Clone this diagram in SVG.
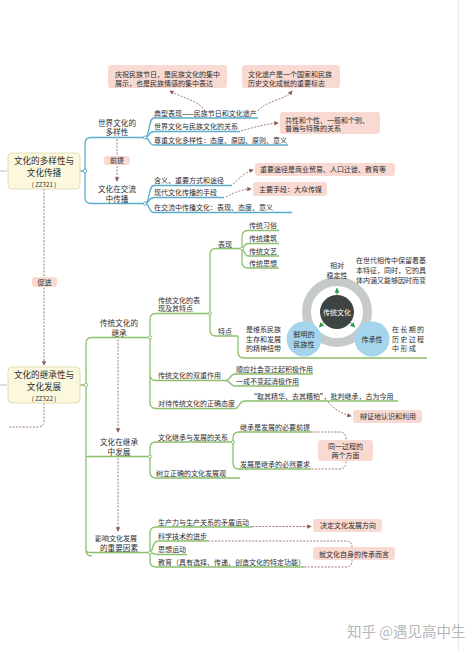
<svg xmlns="http://www.w3.org/2000/svg" width="474" height="651" viewBox="0 0 474 651">
<style>
text{font-family:"Noto Sans CJK SC","Noto Sans",sans-serif;fill:#2d2d2d}
.t7{font-size:7px}
.t8{font-size:7.6px}
.title{font-size:8.6px}
.code{font-size:6.2px}
.blue{stroke:#5aaccc;fill:none;stroke-width:1.3}
.green{stroke:#8cc06c;fill:none;stroke-width:1.3}
.dash{stroke:#8d5b52;fill:none;stroke-width:0.8;stroke-dasharray:2 1.4}
.pink{fill:#f8dad2}
.main{fill:#fbf8dd;stroke:#e3deb5;stroke-width:1}
.dotb{fill:#fff;stroke:#5aaccc;stroke-width:0.9}
.dotg{fill:#fff;stroke:#8cc06c;stroke-width:0.9}
.mid{text-anchor:middle}
</style>
<defs>
<marker id="ah" viewBox="0 0 6 6" refX="5" refY="3" markerWidth="4.5" markerHeight="4.5" markerUnits="userSpaceOnUse" orient="auto"><path d="M0,0 L6,3 L0,6 z" fill="#8d5b52"/></marker>
<marker id="ag" viewBox="0 0 6 6" refX="5" refY="3" markerWidth="5" markerHeight="5" markerUnits="userSpaceOnUse" orient="auto"><path d="M0,0 L6,3 L0,6 z" fill="#2f9a4a"/></marker>
</defs>
<rect width="474" height="651" fill="#fff"/>
<line x1="458.5" y1="0" x2="458.5" y2="651" stroke="#ebebeb" stroke-width="1"/>

<g id="connectors">
<path class="dash" d="M44,189 V365" marker-end="url(#ah)"/>
<path class="dash" d="M44,403 V421 Q44,427 38,427 H8"/>
<line x1="0" y1="171" x2="7" y2="171" stroke="#aaa" stroke-width="0.8"/>
<line x1="0" y1="385" x2="7" y2="385" stroke="#aaa" stroke-width="0.8"/>
<path class="blue" d="M80,171 H85 M85,171 V143.5 Q85,137.5 91,137.5 H145 M85,171 V197.5 Q85,203.5 91,203.5 H145"/>
<path class="blue" d="M145,137.5 C150,137.5 148,118 154,118 H258 M145,137.5 C150,137.5 148,131.5 154,131.5 H240 M145,137.5 C150,137.5 148,145 154,145 H288"/>
<path class="blue" d="M145,203.5 C150,203.5 148,185.5 154,185.5 H232 M145,203.5 C150,203.5 148,197.5 154,197.5 H224 M145,203.5 C150,203.5 148,212.5 154,212.5 H292"/>
<path class="dash" d="M117,139 V181" marker-end="url(#ah)"/>
<path class="dash" d="M205,111 C200,101 180,97 170,91" marker-end="url(#ah)"/>
<path class="dash" d="M258,111 C265,101 285,100 292,91" marker-end="url(#ah)"/>
<path class="dash" d="M241,131 C255,127 265,124 278,123" marker-end="url(#ah)"/>
<path class="dash" d="M233,184 C240,178 245,172 253,170" marker-end="url(#ah)"/>
<path class="dash" d="M226,197 C235,192 243,189 251,189" marker-end="url(#ah)"/>
<circle class="dotb" cx="85" cy="171" r="1.8"/>
<circle class="dotb" cx="145" cy="137.5" r="1.6"/>
<circle class="dotb" cx="145" cy="203.5" r="1.6"/>
<path class="green" d="M80,385 H86 M86,385 V343.5 Q86,337.5 92,337.5 H150 M86,385 V550 Q86,556 92,556 M86,456.5 H150 M86,550 Q86,552.5 92,552.5 H150"/>
<path class="dash" d="M118,339.5 V432" marker-end="url(#ah)"/>
<path class="dash" d="M118,458 V531" marker-end="url(#ah)"/>
<path class="green" d="M150,337.5 V319.5 Q150,313.5 156,313.5 H210 M150,337.5 V374.5 Q150,380.5 156,380.5 H226 M150,374.5 V402.5 Q150,408.5 156,408.5 H235"/>
<path class="green" d="M210,313.5 V254.5 Q210,248.5 216,248.5 H242 M210,313.5 V330 Q210,336 216,336 H238"/>
<path class="green" d="M242,248.5 V236.5 Q242,230.5 248,230.5 H279 M242,248.5 C244,248.5 244,243.5 248,243.5 H279 M242,248.5 C244,248.5 244,256 248,256 H279 M242,248.5 V262 Q242,268 248,268 H279"/>
<path class="green" d="M238,336 V352 Q238,358 244,358 H427"/>
<path class="green" d="M226,380.5 C230,380.5 230,374 235,374 H313 M226,380.5 C230,380.5 230,386 235,386 H299"/>
<path class="green" d="M235,408.5 C240,408.5 238,401 245,401 H398"/>
<path class="dash" d="M328,402 C335,410 342,414 351,416" marker-end="url(#ah)"/>
<path class="green" d="M150,456.5 V448 Q150,442 156,442 H233 M150,456.5 V472 Q150,478 156,478 H240"/>
<path class="green" d="M233,442 V438 Q233,432 239,432 H311 M233,442 V463 Q233,469 239,469 H311"/>
<path class="dash" d="M311,432 H339 Q346,432 346,439 V462 Q346,469 339,469 H311"/>
<path class="green" d="M150,552.5 V533 Q150,527 156,527 H252 M150,552.5 C153,552.5 152,541 158,541 H208 M150,552.5 C153,552.5 153,554.5 158,554.5 H187 M150,552.5 V561 Q150,567 156,567 H304"/>
<path class="dash" d="M252,526.5 H311" marker-end="url(#ah)"/>
<path class="dash" d="M208,541 H346 Q352,541 352,547 V561 Q352,567 346,567 H304"/>
<circle class="dotg" cx="86" cy="385" r="1.8"/>
<circle class="dotg" cx="150" cy="337.5" r="1.6"/>
<circle class="dotg" cx="150" cy="456.5" r="1.6"/>
<circle class="dotg" cx="150" cy="552.5" r="1.6"/>
<circle class="dotg" cx="210" cy="313.5" r="1.5"/>
<circle class="dotg" cx="242" cy="248.5" r="1.5"/>
<circle class="dotg" cx="233" cy="442" r="1.5"/>
</g>

<g id="note-festival"><rect class="pink" x="108" y="65" width="119" height="23" rx="3"/>
<text class="t7" x="115" y="76.5">庆祝民族节日，是民族文化的集中</text>
<text class="t7" x="115" y="85.5">展示，也是民族情感的集中表达</text></g>
<g id="note-heritage"><rect class="pink" x="242" y="65" width="98" height="23" rx="3"/>
<text class="t7" x="248" y="76.5">文化遗产是一个国家和民族</text>
<text class="t7" x="248" y="85.5">历史文化成就的重要标志</text></g>

<g id="node-zz321"><rect class="main" x="8" y="153" width="72" height="36" rx="4"/>
<text class="title mid" x="44" y="163.5">文化的多样性与</text>
<text class="title mid" x="44" y="176">文化传播</text>
<text class="code mid" x="44" y="186.5">( ZZ321 )</text></g>
<g id="label-cujin"><rect class="pink" x="32" y="277" width="25" height="10" rx="3"/>
<text class="t7 mid" x="44.5" y="284.5">促进</text></g>
<g id="node-zz322"><rect class="main" x="8" y="367" width="72" height="36" rx="4"/>
<text class="title mid" x="44" y="377.5">文化的继承性与</text>
<text class="title mid" x="44" y="390">文化发展</text>
<text class="code mid" x="44" y="400.5">( ZZ322 )</text></g>

<g id="node-diversity"><text class="t8 mid" x="117" y="125.5">世界文化的</text><text class="t8 mid" x="117" y="135">多样性</text></g>
<g id="label-qianti"><rect class="pink" x="104" y="156" width="26" height="9" rx="3"/><text class="t7 mid" x="117" y="163">前提</text></g>
<g id="node-spread"><text class="t8 mid" x="117" y="191.5">文化在交流</text><text class="t8 mid" x="117" y="201.5">中传播</text></g>

<g id="leaf-1"><text class="t7" x="154" y="115.5">典型表现——民族节日和文化遗产</text></g>
<g id="leaf-2"><text class="t7" x="154" y="129">世界文化与民族文化的关系</text></g>
<g id="leaf-3"><text class="t7" x="154" y="142.5">尊重文化多样性：态度、原因、原则、意义</text></g>
<g id="note-common"><rect class="pink" x="280" y="112" width="100" height="22" rx="3"/>
<text class="t7" x="285" y="122.5">共性和个性、一般和个别、</text><text class="t7" x="285" y="131">普遍与特殊的关系</text></g>
<g id="leaf-4"><text class="t7" x="154" y="183">含义、重要方式和途径</text></g>
<g id="leaf-5"><text class="t7" x="154" y="195">现代文化传播的手段</text></g>
<g id="leaf-6"><text class="t7" x="154" y="210">在交流中传播文化：表现、态度、意义</text></g>
<g id="note-route"><rect class="pink" x="255" y="163" width="140" height="13" rx="3"/><text class="t7" x="260" y="172">重要途径是商业贸易、人口迁徙、教育等</text></g>
<g id="note-media"><rect class="pink" x="253" y="182" width="74" height="14" rx="3"/><text class="t7" x="259" y="191.5">主要手段：大众传媒</text></g>

<g id="node-inherit"><text class="t8 mid" x="119" y="325.5">传统文化的</text><text class="t8 mid" x="119" y="335.5">继承</text></g>
<g id="node-develop"><text class="t8 mid" x="119" y="444.5">文化在继承</text><text class="t8 mid" x="119" y="454.5">中发展</text></g>
<g id="node-factors"><text class="t7 mid" x="116" y="540.5">影响文化发展</text><text class="t8 mid" x="119" y="550.5">的重要因素</text></g>

<g id="node-feature"><text class="t7" x="158" y="302.5">传统文化的表</text><text class="t7" x="158" y="311">现及其特点</text></g>
<g id="node-dual"><text class="t7" x="158" y="378">传统文化的双重作用</text></g>
<g id="node-attitude"><text class="t7" x="158" y="406">对待传统文化的正确态度</text></g>
<g id="node-biaoxian"><text class="t7" x="218" y="246.5">表现</text></g>
<g id="node-tedian"><text class="t7" x="218" y="334">特点</text></g>
<g id="leaf-custom"><text class="t7" x="249" y="228">传统习俗</text></g>
<g id="leaf-arch"><text class="t7" x="249" y="241">传统建筑</text></g>
<g id="leaf-art"><text class="t7" x="249" y="253.5">传统文艺</text></g>
<g id="leaf-thought"><text class="t7" x="249" y="265.5">传统思想</text></g>

<g id="feature-diagram">
<circle cx="337" cy="312" r="30.5" fill="none" stroke="#c6cacb" stroke-width="9"/>
<circle cx="337" cy="312" r="17" fill="#3e4444"/>
<text class="t7 mid" x="337" y="314.5" style="fill:#fff">传统文化</text>
<path d="M337,295 L337,288.5" stroke="#2f9a4a" stroke-width="0.9" marker-end="url(#ag)"/>
<path d="M324,322 L319.5,327" stroke="#2f9a4a" stroke-width="0.9" marker-end="url(#ag)"/>
<path d="M350,322 L354.5,327" stroke="#2f9a4a" stroke-width="0.9" marker-end="url(#ag)"/>
<circle cx="304" cy="339" r="17.5" fill="#a4d5ec"/>
<circle cx="372" cy="339" r="17.5" fill="#a4d5ec"/>
<text class="t7 mid" x="304" y="337">鲜明的</text><text class="t7 mid" x="304" y="347">民族性</text>
<text class="t7 mid" x="372" y="341.5">传承性</text>
<text class="t7 mid" x="337" y="267.5">相对</text><text class="t7 mid" x="337" y="277.5">稳定性</text>
<text class="t7" x="356" y="262.5">在世代相传中保留着基</text>
<text class="t7" x="356" y="272.5">本特征，同时，它的具</text>
<text class="t7" x="356" y="282.5">体内涵又能够因时而变</text>
<text class="t7" x="392" y="331.5" textLength="32" lengthAdjust="spacing">在长期的</text>
<text class="t7" x="392" y="341.5" textLength="32" lengthAdjust="spacing">历史过程</text>
<text class="t7" x="392" y="351" textLength="24" lengthAdjust="spacing">中形成</text>
<text class="t7" x="246" y="331.5">是维系民族</text>
<text class="t7" x="246" y="341.5">生存和发展</text>
<text class="t7" x="246" y="351">的精神纽带</text>
</g>

<g id="leaf-positive"><text class="t7" x="236" y="372">顺应社会变迁起积极作用</text></g>
<g id="leaf-negative"><text class="t7" x="236" y="384">一成不变起消极作用</text></g>
<g id="leaf-critical"><text class="t7" x="250" y="398.5">“取其精华、去其糟粕”，批判继承，古为今用</text></g>
<g id="note-dialectic"><rect class="pink" x="353" y="410" width="69" height="13" rx="3"/><text class="t7" x="360" y="419">辩证地认识和利用</text></g>

<g id="node-relation"><text class="t7" x="158" y="440">文化继承与发展的关系</text></g>
<g id="node-outlook"><text class="t7" x="156" y="476">树立正确的文化发展观</text></g>
<g id="leaf-premise"><text class="t7" x="240" y="430">继承是发展的必要前提</text></g>
<g id="leaf-demand"><text class="t7" x="240" y="467">发展是继承的必然要求</text></g>
<g id="note-same"><rect class="pink" x="318" y="440" width="55" height="21" rx="3"/>
<text class="t7 mid" x="345.5" y="449">同一过程的</text><text class="t7 mid" x="345.5" y="458">两个方面</text></g>

<g id="leaf-productivity"><text class="t7" x="158" y="525">生产力与生产关系的矛盾运动</text></g>
<g id="leaf-science"><text class="t7" x="158" y="539">科学技术的进步</text></g>
<g id="leaf-thoughtmove"><text class="t7" x="158" y="552">思想运动</text></g>
<g id="leaf-education"><text class="t7" x="158" y="565">教育（具有选择、传递、创造文化的特定功能）</text></g>
<g id="note-direction"><rect class="pink" x="313" y="519" width="69" height="13" rx="3"/><text class="t7" x="320" y="528">决定文化发展方向</text></g>
<g id="note-self"><rect class="pink" x="313" y="547" width="82" height="13" rx="3"/><text class="t7" x="319" y="556.5">就文化自身的传承而言</text></g>

<text x="347" y="637" style="font-size:14.5px;fill:#b8b8b8">知乎 @遇见高中生</text>
</svg>
